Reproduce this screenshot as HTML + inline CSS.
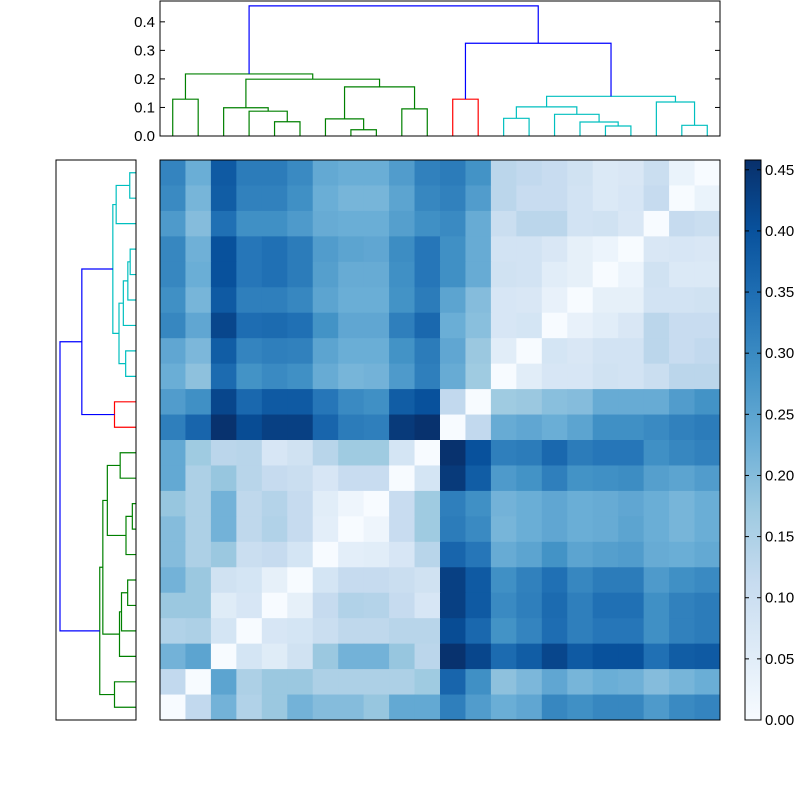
<!DOCTYPE html>
<html><head><meta charset="utf-8">
<style>
body{margin:0;background:#fff;}
svg{display:block;font-family:"Liberation Sans",sans-serif;}
</style></head>
<body>
<svg id="fig" width="800" height="800" viewBox="0 0 800 800">
  <rect x="0" y="0" width="800" height="800" fill="#fff"/>
  <defs>
    <linearGradient id="blues" x1="0" y1="1" x2="0" y2="0">
      <stop offset="0" stop-color="#f7fbff"/><stop offset="0.125" stop-color="#deebf7"/>
      <stop offset="0.25" stop-color="#c6dbef"/><stop offset="0.375" stop-color="#9ecae1"/>
      <stop offset="0.5" stop-color="#6baed6"/><stop offset="0.625" stop-color="#4292c6"/>
      <stop offset="0.75" stop-color="#2171b5"/><stop offset="0.875" stop-color="#08519c"/>
      <stop offset="1" stop-color="#08306b"/>
    </linearGradient>
  </defs>
  <g id="heat"></g>
  <g id="topDendro"></g>
  <g id="leftDendro"></g>
  <g id="cbar"></g>
</svg>
<script>
// distance matrix in leaf order (rows/cols = leaves 0..21)
const distances = [
[0,.12,.22,.145,.175,.22,.2,.2,.18,.24,.24,.32,.265,.23,.245,.305,.29,.305,.305,.27,.30,.31],
[.12,0,.25,.15,.175,.175,.15,.15,.15,.15,.17,.365,.29,.19,.21,.245,.215,.23,.225,.20,.215,.23],
[.22,.25,0,.08,.055,.09,.175,.22,.22,.18,.13,.455,.42,.355,.38,.42,.385,.40,.40,.345,.38,.385],
[.145,.15,.08,0,.075,.08,.105,.125,.125,.135,.135,.41,.36,.285,.31,.35,.32,.335,.335,.29,.315,.325],
[.175,.175,.055,.075,0,.04,.115,.145,.14,.115,.075,.43,.385,.30,.32,.355,.32,.345,.345,.29,.315,.325],
[.22,.175,.09,.08,.04,0,.08,.115,.115,.105,.09,.43,.385,.29,.315,.345,.305,.325,.325,.27,.29,.30],
[.2,.15,.175,.105,.115,.08,0,.045,.05,.075,.135,.365,.335,.235,.25,.285,.25,.26,.265,.235,.23,.24],
[.2,.15,.22,.125,.145,.115,.045,0,.02,.11,.17,.325,.30,.215,.23,.245,.23,.235,.25,.23,.215,.23],
[.18,.15,.22,.125,.14,.115,.05,.02,0,.11,.17,.32,.29,.22,.23,.245,.23,.235,.245,.23,.215,.23],
[.24,.15,.18,.135,.115,.105,.075,.11,.11,0,.08,.44,.38,.27,.285,.32,.285,.29,.295,.26,.25,.265],
[.24,.17,.13,.135,.075,.09,.135,.17,.17,.08,0,.455,.40,.32,.325,.36,.325,.335,.335,.29,.305,.315],
[.32,.365,.455,.41,.43,.43,.365,.325,.32,.44,.455,0,.12,.235,.245,.23,.25,.29,.29,.30,.315,.325],
[.265,.29,.42,.36,.385,.385,.335,.30,.29,.38,.40,.12,0,.17,.175,.195,.20,.235,.235,.235,.265,.285],
[.23,.19,.355,.285,.30,.29,.235,.215,.22,.27,.32,.235,.17,0,.05,.075,.075,.09,.085,.105,.13,.13],
[.245,.21,.38,.31,.32,.315,.25,.23,.23,.285,.325,.245,.175,.05,0,.08,.07,.085,.085,.13,.11,.12],
[.305,.245,.42,.35,.355,.345,.285,.245,.245,.32,.36,.23,.195,.075,.08,0,.035,.05,.07,.13,.11,.11],
[.29,.215,.385,.32,.32,.305,.25,.23,.23,.285,.325,.25,.20,.075,.07,.035,0,.04,.04,.085,.085,.09],
[.305,.23,.40,.335,.345,.325,.26,.235,.235,.29,.335,.29,.235,.09,.085,.05,.04,0,.025,.09,.065,.065],
[.305,.225,.40,.335,.345,.325,.265,.25,.245,.295,.335,.29,.235,.085,.085,.07,.04,.025,0,.07,.075,.07],
[.27,.20,.345,.29,.29,.27,.235,.23,.23,.26,.29,.30,.235,.105,.13,.13,.085,.09,.07,0,.115,.105],
[.30,.215,.38,.315,.315,.29,.23,.215,.215,.25,.305,.315,.265,.13,.11,.11,.085,.065,.075,.115,0,.03],
[.31,.23,.385,.325,.325,.30,.24,.23,.23,.265,.315,.325,.285,.13,.12,.11,.09,.065,.07,.105,.03,0]
];
// linkage: children and heights; new cluster ids start at 22
const linkChildA = [7,17,20,16,4,6,13,15,3,9,2,28,19,0,11,33,27,32,35,36,40];
const linkChildB = [8,18,21,23,5,22,14,25,26,10,30,29,24,1,12,34,31,38,39,37,41];
const linkHeight = [.022,.035,.0375,.049,.050,.060,.062,.076,.087,.095,.099,.102,.119,.129,.129,.139,.172,.199,.2175,.325,.456];
const leafGroup = ['g','g','g','g','g','g','g','g','g','g','g','r','r','c','c','c','c','c','c','c','c','c'];
const yTicks = [0.0,0.1,0.2,0.3,0.4];
const yTickLabels = ['0.0','0.1','0.2','0.3','0.4'];
const cbTicks = [0,0.05,0.10,0.15,0.20,0.25,0.30,0.35,0.40,0.45];
const cbTickLabels = ['0.00','0.05','0.10','0.15','0.20','0.25','0.30','0.35','0.40','0.45'];
const colorMax = 0.458;

const NS='http://www.w3.org/2000/svg';
function mk(tag, attrs, parent){const e=document.createElementNS(NS,tag);for(const k in attrs)e.setAttribute(k,attrs[k]);parent.appendChild(e);return e;}
const N = distances.length;
let vmax = colorMax; distances.forEach(r=>r.forEach(v=>{if(v>vmax)vmax=v;}));
const stops=['#f7fbff','#deebf7','#c6dbef','#9ecae1','#6baed6','#4292c6','#2171b5','#08519c','#08306b'];
function hex(c){return [1,3,5].map(i=>parseInt(c.substr(i,2),16));}
function blues(t){t=Math.max(0,Math.min(1,t));const p=t*8;const i=Math.min(7,Math.floor(p));const f=p-i;const a=hex(stops[i]),b=hex(stops[i+1]);return 'rgb('+a.map((v,k)=>Math.round(v+(b[k]-v)*f)).join(',')+')';}

// heatmap
const HX=160,HY=160,HW=560,HH=560;
const heat=document.getElementById('heat');
const cw=HW/N, ch=HH/N;
for(let r=0;r<N;r++){for(let c=0;c<N;c++){
  const v=distances[N-1-r][c];
  const rc=mk('rect',{x:HX+c*cw,y:HY+r*ch,width:cw+0.5,height:ch+0.5,fill:blues(v/vmax)},heat);
  
  
}}
const hb=mk('rect',{x:HX,y:HY,width:HW,height:HH,fill:'none',stroke:'#000','stroke-width':1},heat);



// dendrogram layout
const colors={g:'#008000',r:'#ff0000',c:'#00bfbf',b:'#0000ff'};
const pos={}, hgt={}, grp={};
for(let i=0;i<N;i++){pos[i]=i+0.5;hgt[i]=0;grp[i]=leafGroup[i];}
const segs=[];
linkHeight.forEach((h,k)=>{
  const a=linkChildA[k], b=linkChildB[k], id=N+k;
  const g=(grp[a]===grp[b])?grp[a]:'b';
  segs.push({pa:pos[a],ha:hgt[a],pb:pos[b],hb:hgt[b],h:h,col:colors[g]});
  pos[id]=(pos[a]+pos[b])/2; hgt[id]=h; grp[id]=g;
});

// top dendrogram
const TX=160,TY=1,TW=560,TH=135,TMAX=0.473;
const topG=document.getElementById('topDendro');
const tx=p=>TX+p*TW/N, ty=h=>TY+TH-h/TMAX*TH;
segs.forEach(s=>{
  const pl=mk('polyline',{points:`${tx(s.pa)},${ty(s.ha)} ${tx(s.pa)},${ty(s.h)} ${tx(s.pb)},${ty(s.h)} ${tx(s.pb)},${ty(s.hb)}`,fill:'none',stroke:s.col,'stroke-width':1.2},topG);
  
  
});
const tf=mk('rect',{x:TX,y:TY,width:TW,height:TH,fill:'none',stroke:'#000','stroke-width':1},topG);


yTicks.forEach((t,i)=>{
  const y=ty(t);
  mk('line',{x1:TX,y1:y,x2:TX+5,y2:y,stroke:'#000'},topG);
  mk('line',{x1:TX+TW,y1:y,x2:TX+TW-5,y2:y,stroke:'#000'},topG);
  const tl=mk('text',{x:TX-5,y:y+5,'text-anchor':'end','font-size':15,fill:'#000'},topG);
  tl.textContent=yTickLabels[i];
  
  
});

// left dendrogram
const LX=56,LY=160,LW=80,LH=560,LMAX=0.48;
const leftG=document.getElementById('leftDendro');
const ly=p=>LY+LH-p*LH/N, lx=h=>LX+LW-h/LMAX*LW;
segs.forEach(s=>{
  const pl=mk('polyline',{points:`${lx(s.ha)},${ly(s.pa)} ${lx(s.h)},${ly(s.pa)} ${lx(s.h)},${ly(s.pb)} ${lx(s.hb)},${ly(s.pb)}`,fill:'none',stroke:s.col,'stroke-width':1.2},leftG);
  
  
});
const lf=mk('rect',{x:LX,y:LY,width:LW,height:LH,fill:'none',stroke:'#000','stroke-width':1},leftG);



// colorbar
const CX=745,CY=160,CW=16,CH=560;
const cb=document.getElementById('cbar');
const cbr=mk('rect',{x:CX,y:CY,width:CW,height:CH,fill:'url(#blues)',stroke:'#000','stroke-width':1},cb);


cbTicks.forEach((t,i)=>{
  const y=CY+CH-t/vmax*CH;
  mk('line',{x1:CX,y1:y,x2:CX+4,y2:y,stroke:'#000'},cb);
  mk('line',{x1:CX+CW,y1:y,x2:CX+CW-4,y2:y,stroke:'#000'},cb);
  const tl=mk('text',{x:CX+CW+4,y:y+5,'font-size':15,fill:'#000'},cb);
  tl.textContent=cbTickLabels[i];
  
  
});
</script>
</body></html>
